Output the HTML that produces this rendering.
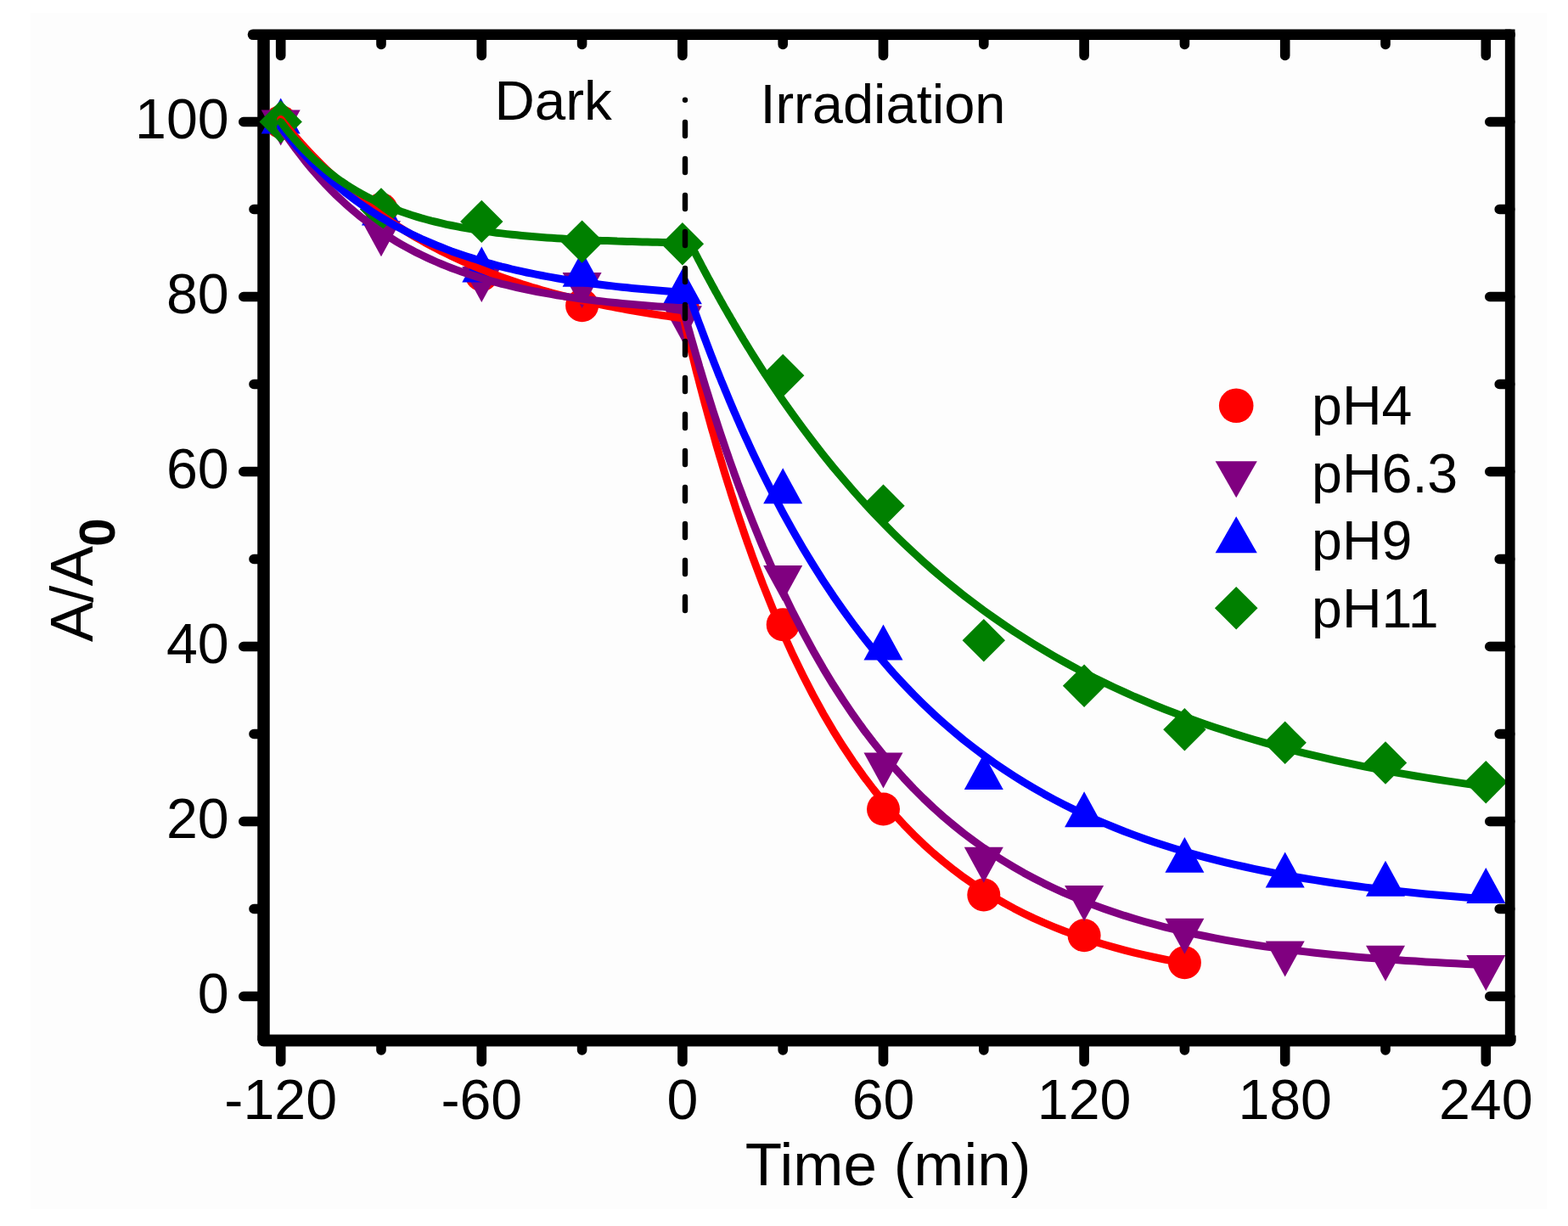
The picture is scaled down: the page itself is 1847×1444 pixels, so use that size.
<!DOCTYPE html>
<html><head><meta charset="utf-8"><title>A/A0 vs Time</title>
<style>html,body{margin:0;padding:0;background:#fff;}svg{display:block;}</style>
</head><body>
<svg width="1847" height="1444" viewBox="0 0 1847 1444">
<rect x="0" y="0" width="1847" height="1444" fill="#ffffff"/>
<rect x="36" y="15" width="1786" height="1409" fill="#fdfdfd"/>
<path d="M298 40.8 L1778.7 40.8" stroke="#000" stroke-width="12.6" stroke-linecap="round" fill="none"/>
<path d="M310.5 40.8 L310.5 1225.5" stroke="#000" stroke-width="14.5" fill="none"/>
<path d="M310.5 1219.5 L310.5 1225.5 L1778.7 1225.5 L1778.7 1219.5" stroke="#000" stroke-width="14" stroke-linejoin="round" fill="none"/>
<path d="M330.7 1225.5 L330.7 1250.5 M330.7 40.8 L330.7 65.5 M449.0 1225.5 L449.0 1237 M449.0 40.8 L449.0 52.5 M567.3 1225.5 L567.3 1250.5 M567.3 40.8 L567.3 65.5 M685.6 1225.5 L685.6 1237 M685.6 40.8 L685.6 52.5 M803.9 1225.5 L803.9 1250.5 M803.9 40.8 L803.9 65.5 M922.2 1225.5 L922.2 1237 M922.2 40.8 L922.2 52.5 M1040.5 1225.5 L1040.5 1250.5 M1040.5 40.8 L1040.5 65.5 M1158.8 1225.5 L1158.8 1237 M1158.8 40.8 L1158.8 52.5 M1277.1 1225.5 L1277.1 1250.5 M1277.1 40.8 L1277.1 65.5 M1395.4 1225.5 L1395.4 1237 M1395.4 40.8 L1395.4 52.5 M1513.7 1225.5 L1513.7 1250.5 M1513.7 40.8 L1513.7 65.5 M1632.0 1225.5 L1632.0 1237 M1632.0 40.8 L1632.0 52.5 M1750.3 1225.5 L1750.3 1250.5 M1750.3 40.8 L1750.3 65.5 M310.5 1173.5 L286.8 1173.5 M310.5 1070.5 L299 1070.5 M310.5 967.5 L286.8 967.5 M310.5 864.5 L299 864.5 M310.5 761.5 L286.8 761.5 M310.5 658.5 L299 658.5 M310.5 555.5 L286.8 555.5 M310.5 452.5 L299 452.5 M310.5 349.5 L286.8 349.5 M310.5 246.5 L299 246.5 M310.5 143.5 L286.8 143.5" stroke="#000" stroke-width="11.6" stroke-linecap="round" fill="none"/>
<g>
<circle cx="330.7" cy="143.5" r="19.5" fill="#ff0000"/>
<circle cx="449.0" cy="246.5" r="19.5" fill="#ff0000"/>
<circle cx="567.3" cy="323.7" r="19.5" fill="#ff0000"/>
<circle cx="685.6" cy="359.8" r="19.5" fill="#ff0000"/>
<circle cx="803.9" cy="359.8" r="19.5" fill="#ff0000"/>
<circle cx="922.2" cy="735.8" r="19.5" fill="#ff0000"/>
<circle cx="1040.5" cy="953.1" r="19.5" fill="#ff0000"/>
<circle cx="1158.8" cy="1054.0" r="19.5" fill="#ff0000"/>
<circle cx="1277.1" cy="1101.7" r="19.5" fill="#ff0000"/>
<circle cx="1395.4" cy="1133.7" r="19.5" fill="#ff0000"/>
<path d="M330.7 171.5L353.7 129.5L307.7 129.5Z" fill="#800080"/>
<path d="M449.0 302.3L472.0 260.3L426.0 260.3Z" fill="#800080"/>
<path d="M567.3 355.9L590.3 313.9L544.3 313.9Z" fill="#800080"/>
<path d="M685.6 363.1L708.6 321.1L662.6 321.1Z" fill="#800080"/>
<path d="M803.9 402.2L826.9 360.2L780.9 360.2Z" fill="#800080"/>
<path d="M922.2 708.1L945.2 666.1L899.2 666.1Z" fill="#800080"/>
<path d="M1040.5 928.5L1063.5 886.5L1017.5 886.5Z" fill="#800080"/>
<path d="M1158.8 1039.8L1181.8 997.8L1135.8 997.8Z" fill="#800080"/>
<path d="M1277.1 1085.1L1300.1 1043.1L1254.1 1043.1Z" fill="#800080"/>
<path d="M1395.4 1123.7L1418.4 1081.7L1372.4 1081.7Z" fill="#800080"/>
<path d="M1513.7 1150.5L1536.7 1108.5L1490.7 1108.5Z" fill="#800080"/>
<path d="M1632.0 1155.7L1655.0 1113.7L1609.0 1113.7Z" fill="#800080"/>
<path d="M1750.3 1167.0L1773.3 1125.0L1727.3 1125.0Z" fill="#800080"/>
<path d="M330.7 115.5L353.7 157.5L307.7 157.5Z" fill="#0000ff"/>
<path d="M449.0 223.6L472.0 265.6L426.0 265.6Z" fill="#0000ff"/>
<path d="M567.3 290.6L590.3 332.6L544.3 332.6Z" fill="#0000ff"/>
<path d="M685.6 295.7L708.6 337.7L662.6 337.7Z" fill="#0000ff"/>
<path d="M803.9 316.3L826.9 358.3L780.9 358.3Z" fill="#0000ff"/>
<path d="M922.2 551.2L945.2 593.2L899.2 593.2Z" fill="#0000ff"/>
<path d="M1040.5 735.6L1063.5 777.6L1017.5 777.6Z" fill="#0000ff"/>
<path d="M1158.8 888.0L1181.8 930.0L1135.8 930.0Z" fill="#0000ff"/>
<path d="M1277.1 932.3L1300.1 974.3L1254.1 974.3Z" fill="#0000ff"/>
<path d="M1395.4 985.9L1418.4 1027.8L1372.4 1027.8Z" fill="#0000ff"/>
<path d="M1513.7 1003.4L1536.7 1045.4L1490.7 1045.4Z" fill="#0000ff"/>
<path d="M1632.0 1013.7L1655.0 1055.7L1609.0 1055.7Z" fill="#0000ff"/>
<path d="M1750.3 1021.9L1773.3 1063.9L1727.3 1063.9Z" fill="#0000ff"/>
<path d="M330.7 118.3L355.9 143.5L330.7 168.7L305.5 143.5Z" fill="#008000"/>
<path d="M449.0 221.3L474.2 246.5L449.0 271.7L423.8 246.5Z" fill="#008000"/>
<path d="M567.3 235.7L592.5 260.9L567.3 286.1L542.1 260.9Z" fill="#008000"/>
<path d="M685.6 259.4L710.8 284.6L685.6 309.8L660.4 284.6Z" fill="#008000"/>
<path d="M803.9 262.0L829.1 287.2L803.9 312.4L778.7 287.2Z" fill="#008000"/>
<path d="M922.2 417.0L947.4 442.2L922.2 467.4L897.0 442.2Z" fill="#008000"/>
<path d="M1040.5 570.5L1065.7 595.7L1040.5 620.9L1015.3 595.7Z" fill="#008000"/>
<path d="M1158.8 729.1L1184.0 754.3L1158.8 779.5L1133.6 754.3Z" fill="#008000"/>
<path d="M1277.1 782.6L1302.3 807.8L1277.1 833.0L1251.9 807.8Z" fill="#008000"/>
<path d="M1395.4 834.1L1420.6 859.3L1395.4 884.5L1370.2 859.3Z" fill="#008000"/>
<path d="M1513.7 849.6L1538.9 874.8L1513.7 900.0L1488.5 874.8Z" fill="#008000"/>
<path d="M1632.0 873.3L1657.2 898.5L1632.0 923.7L1606.8 898.5Z" fill="#008000"/>
<path d="M1750.3 895.9L1775.5 921.1L1750.3 946.4L1725.1 921.1Z" fill="#008000"/>
</g>
<path d="M330.7 140.4 L336.6 147.7 L342.5 154.7 L348.4 161.6 L354.4 168.3 L360.3 174.8 L366.2 181.1 L372.1 187.2 L378.0 193.2 L383.9 199.0 L389.9 204.6 L395.8 210.1 L401.7 215.4 L407.6 220.6 L413.5 225.7 L419.4 230.6 L425.3 235.3 L431.3 240.0 L437.2 244.5 L443.1 248.9 L449.0 253.1 L454.9 257.3 L460.8 261.3 L466.7 265.2 L472.7 269.0 L478.6 272.7 L484.5 276.3 L490.4 279.8 L496.3 283.2 L502.2 286.5 L508.2 289.7 L514.1 292.8 L520.0 295.9 L525.9 298.8 L531.8 301.7 L537.7 304.5 L543.6 307.2 L549.6 309.8 L555.5 312.4 L561.4 314.9 L567.3 317.3 L573.2 319.7 L579.1 322.0 L585.0 324.2 L591.0 326.4 L596.9 328.5 L602.8 330.5 L608.7 332.5 L614.6 334.5 L620.5 336.3 L626.5 338.2 L632.4 339.9 L638.3 341.7 L644.2 343.4 L650.1 345.0 L656.0 346.6 L661.9 348.1 L667.9 349.6 L673.8 351.1 L679.7 352.5 L685.6 353.9 L691.5 355.2 L697.4 356.6 L703.3 357.8 L709.3 359.1 L715.2 360.3 L721.1 361.4 L727.0 362.6 L732.9 363.7 L738.8 364.7 L744.8 365.8 L750.7 366.8 L756.6 367.8 L762.5 368.7 L768.4 369.7 L774.3 370.6 L780.2 371.5 L786.2 372.3 L792.1 373.2 L798.0 374.0 L803.9 374.7 L805.1 374.7 L807.1 383.0 L809.0 391.1 L810.9 399.2 L812.9 407.2 L814.8 415.1 L816.8 422.9 L818.7 430.6 L820.6 438.3 L822.6 445.9 L824.5 453.4 L826.5 460.8 L828.4 468.1 L830.3 475.4 L832.3 482.6 L834.2 489.7 L836.2 496.7 L838.1 503.7 L840.1 510.6 L842.0 517.4 L843.9 524.2 L845.9 530.9 L847.8 537.5 L849.8 544.0 L851.7 550.5 L853.6 556.9 L855.6 563.3 L857.5 569.5 L859.5 575.7 L861.4 581.9 L863.4 588.0 L865.3 594.0 L867.2 600.0 L869.2 605.9 L871.1 611.7 L873.1 617.5 L875.0 623.2 L876.9 628.8 L878.9 634.4 L880.8 640.0 L882.8 645.4 L886.7 656.4 L898.5 687.9 L910.4 717.5 L922.2 745.2 L934.0 771.3 L945.9 795.7 L957.7 818.6 L969.5 840.2 L981.3 860.3 L993.2 879.3 L1005.0 897.1 L1016.8 913.7 L1028.7 929.4 L1040.5 944.1 L1052.3 957.9 L1064.2 970.8 L1076.0 982.9 L1087.8 994.3 L1099.6 1005.0 L1111.5 1015.0 L1123.3 1024.4 L1135.1 1033.3 L1147.0 1041.5 L1158.8 1049.3 L1170.6 1056.6 L1182.5 1063.5 L1194.3 1069.9 L1206.1 1075.9 L1217.9 1081.6 L1229.8 1086.9 L1241.6 1091.8 L1253.4 1096.5 L1265.3 1100.9 L1277.1 1105.0 L1288.9 1108.9 L1300.8 1112.5 L1312.6 1115.9 L1324.4 1119.1 L1336.2 1122.1 L1348.1 1124.9 L1359.9 1127.5 L1371.7 1130.0 L1383.6 1132.3 L1395.4 1134.5" fill="none" stroke="#ff0000" stroke-width="9" stroke-linejoin="round" stroke-linecap="round"/>
<path d="M330.7 149.9 L336.6 158.7 L342.5 167.2 L348.4 175.3 L354.4 183.1 L360.3 190.6 L366.2 197.8 L372.1 204.7 L378.0 211.3 L383.9 217.7 L389.9 223.8 L395.8 229.7 L401.7 235.3 L407.6 240.7 L413.5 245.9 L419.4 250.9 L425.3 255.7 L431.3 260.3 L437.2 264.7 L443.1 269.0 L449.0 273.0 L454.9 276.9 L460.8 280.7 L466.7 284.3 L472.7 287.8 L478.6 291.1 L484.5 294.3 L490.4 297.4 L496.3 300.3 L502.2 303.1 L508.2 305.9 L514.1 308.5 L520.0 311.0 L525.9 313.4 L531.8 315.7 L537.7 317.9 L543.6 320.0 L549.6 322.1 L555.5 324.0 L561.4 325.9 L567.3 327.7 L573.2 329.5 L579.1 331.1 L585.0 332.7 L591.0 334.3 L596.9 335.7 L602.8 337.2 L608.7 338.5 L614.6 339.8 L620.5 341.1 L626.5 342.3 L632.4 343.5 L638.3 344.6 L644.2 345.6 L650.1 346.7 L656.0 347.7 L661.9 348.6 L667.9 349.5 L673.8 350.4 L679.7 351.2 L685.6 352.0 L691.5 352.8 L697.4 353.5 L703.3 354.2 L709.3 354.9 L715.2 355.6 L721.1 356.2 L727.0 356.8 L732.9 357.4 L738.8 358.0 L744.8 358.5 L750.7 359.0 L756.6 359.5 L762.5 360.0 L768.4 360.4 L774.3 360.9 L780.2 361.3 L786.2 361.7 L792.1 362.1 L798.0 362.5 L803.9 362.8 L804.3 362.8 L806.3 370.0 L808.3 377.2 L810.2 384.3 L812.2 391.3 L814.1 398.2 L816.1 405.1 L818.1 412.0 L820.0 418.7 L822.0 425.4 L823.9 432.1 L825.9 438.6 L827.9 445.2 L829.8 451.6 L831.8 458.0 L833.8 464.3 L835.7 470.6 L837.7 476.8 L839.6 483.0 L841.6 489.1 L843.6 495.2 L845.5 501.2 L847.5 507.1 L849.4 513.0 L851.4 518.8 L853.4 524.6 L855.3 530.3 L857.3 536.0 L859.2 541.6 L861.2 547.2 L863.2 552.7 L865.1 558.2 L867.1 563.6 L869.0 569.0 L871.0 574.3 L873.0 579.5 L874.9 584.8 L876.9 589.9 L878.8 595.0 L880.8 600.1 L882.8 605.1 L886.7 615.1 L898.5 644.0 L910.4 671.2 L922.2 697.0 L934.0 721.4 L945.9 744.4 L957.7 766.2 L969.5 786.8 L981.3 806.3 L993.2 824.8 L1005.0 842.2 L1016.8 858.7 L1028.7 874.3 L1040.5 889.0 L1052.3 902.9 L1064.2 916.1 L1076.0 928.6 L1087.8 940.4 L1099.6 951.5 L1111.5 962.1 L1123.3 972.0 L1135.1 981.5 L1147.0 990.4 L1158.8 998.8 L1170.6 1006.8 L1182.5 1014.3 L1194.3 1021.4 L1206.1 1028.2 L1217.9 1034.5 L1229.8 1040.6 L1241.6 1046.3 L1253.4 1051.7 L1265.3 1056.7 L1277.1 1061.6 L1288.9 1066.1 L1300.8 1070.4 L1312.6 1074.5 L1324.4 1078.4 L1336.2 1082.0 L1348.1 1085.5 L1359.9 1088.7 L1371.7 1091.8 L1383.6 1094.7 L1395.4 1097.5 L1407.2 1100.1 L1419.1 1102.5 L1430.9 1104.9 L1442.7 1107.1 L1454.5 1109.1 L1466.4 1111.1 L1478.2 1113.0 L1490.0 1114.7 L1501.9 1116.4 L1513.7 1118.0 L1525.5 1119.5 L1537.4 1120.9 L1549.2 1122.2 L1561.0 1123.5 L1572.8 1124.7 L1584.7 1125.8 L1596.5 1126.9 L1608.3 1127.9 L1620.2 1128.8 L1632.0 1129.7 L1643.8 1130.6 L1655.7 1131.4 L1667.5 1132.1 L1679.3 1132.9 L1691.1 1133.5 L1703.0 1134.2 L1714.8 1134.8 L1726.6 1135.4 L1738.5 1135.9 L1750.3 1136.4" fill="none" stroke="#800080" stroke-width="9" stroke-linejoin="round" stroke-linecap="round"/>
<path d="M330.7 149.8 L336.6 157.2 L342.5 164.2 L348.4 171.1 L354.4 177.7 L360.3 184.0 L366.2 190.2 L372.1 196.1 L378.0 201.8 L383.9 207.3 L389.9 212.6 L395.8 217.7 L401.7 222.6 L407.6 227.4 L413.5 231.9 L419.4 236.4 L425.3 240.6 L431.3 244.7 L437.2 248.7 L443.1 252.5 L449.0 256.2 L454.9 259.7 L460.8 263.2 L466.7 266.5 L472.7 269.6 L478.6 272.7 L484.5 275.7 L490.4 278.5 L496.3 281.3 L502.2 283.9 L508.2 286.5 L514.1 289.0 L520.0 291.3 L525.9 293.6 L531.8 295.9 L537.7 298.0 L543.6 300.0 L549.6 302.0 L555.5 303.9 L561.4 305.8 L567.3 307.6 L573.2 309.3 L579.1 310.9 L585.0 312.5 L591.0 314.1 L596.9 315.5 L602.8 317.0 L608.7 318.4 L614.6 319.7 L620.5 321.0 L626.5 322.2 L632.4 323.4 L638.3 324.5 L644.2 325.6 L650.1 326.7 L656.0 327.7 L661.9 328.7 L667.9 329.7 L673.8 330.6 L679.7 331.5 L685.6 332.4 L691.5 333.2 L697.4 334.0 L703.3 334.8 L709.3 335.5 L715.2 336.2 L721.1 336.9 L727.0 337.6 L732.9 338.2 L738.8 338.8 L744.8 339.4 L750.7 340.0 L756.6 340.6 L762.5 341.1 L768.4 341.6 L774.3 342.1 L780.2 342.6 L786.2 343.1 L792.1 343.5 L798.0 343.9 L803.9 344.4 L810.5 344.4 L812.3 349.5 L814.1 354.6 L815.9 359.7 L817.7 364.8 L819.5 369.8 L821.3 374.8 L823.1 379.7 L825.0 384.6 L826.8 389.5 L828.6 394.4 L830.4 399.2 L832.2 403.9 L834.0 408.7 L835.8 413.4 L837.6 418.1 L839.4 422.7 L841.2 427.3 L843.0 431.9 L844.8 436.4 L846.6 441.0 L848.4 445.4 L850.2 449.9 L852.1 454.3 L853.9 458.7 L855.7 463.0 L857.5 467.4 L859.3 471.7 L861.1 475.9 L862.9 480.2 L864.7 484.4 L866.5 488.5 L868.3 492.7 L870.1 496.8 L871.9 500.9 L873.7 505.0 L875.5 509.0 L877.3 513.0 L879.2 517.0 L881.0 520.9 L882.8 524.8 L886.7 533.3 L898.5 557.9 L910.4 581.4 L922.2 603.8 L934.0 625.2 L945.9 645.7 L957.7 665.2 L969.5 683.8 L981.3 701.6 L993.2 718.6 L1005.0 734.8 L1016.8 750.3 L1028.7 765.1 L1040.5 779.2 L1052.3 792.7 L1064.2 805.6 L1076.0 817.9 L1087.8 829.6 L1099.6 840.8 L1111.5 851.5 L1123.3 861.7 L1135.1 871.5 L1147.0 880.8 L1158.8 889.7 L1170.6 898.2 L1182.5 906.3 L1194.3 914.0 L1206.1 921.4 L1217.9 928.4 L1229.8 935.2 L1241.6 941.6 L1253.4 947.7 L1265.3 953.6 L1277.1 959.2 L1288.9 964.6 L1300.8 969.7 L1312.6 974.5 L1324.4 979.2 L1336.2 983.6 L1348.1 987.9 L1359.9 991.9 L1371.7 995.8 L1383.6 999.5 L1395.4 1003.0 L1407.2 1006.4 L1419.1 1009.6 L1430.9 1012.6 L1442.7 1015.6 L1454.5 1018.4 L1466.4 1021.0 L1478.2 1023.6 L1490.0 1026.0 L1501.9 1028.3 L1513.7 1030.6 L1525.5 1032.7 L1537.4 1034.7 L1549.2 1036.6 L1561.0 1038.5 L1572.8 1040.2 L1584.7 1041.9 L1596.5 1043.5 L1608.3 1045.1 L1620.2 1046.5 L1632.0 1047.9 L1643.8 1049.3 L1655.7 1050.5 L1667.5 1051.7 L1679.3 1052.9 L1691.1 1054.0 L1703.0 1055.1 L1714.8 1056.1 L1726.6 1057.1 L1738.5 1058.0 L1750.3 1058.9" fill="none" stroke="#0000ff" stroke-width="9" stroke-linejoin="round" stroke-linecap="round"/>
<path d="M330.7 143.6 L336.6 151.3 L342.5 158.6 L348.4 165.5 L354.4 172.1 L360.3 178.3 L366.2 184.1 L372.1 189.7 L378.0 194.9 L383.9 199.9 L389.9 204.6 L395.8 209.1 L401.7 213.3 L407.6 217.3 L413.5 221.0 L419.4 224.6 L425.3 228.0 L431.3 231.2 L437.2 234.2 L443.1 237.1 L449.0 239.8 L454.9 242.4 L460.8 244.8 L466.7 247.1 L472.7 249.3 L478.6 251.3 L484.5 253.3 L490.4 255.1 L496.3 256.9 L502.2 258.5 L508.2 260.1 L514.1 261.5 L520.0 262.9 L525.9 264.3 L531.8 265.5 L537.7 266.7 L543.6 267.8 L549.6 268.9 L555.5 269.9 L561.4 270.9 L567.3 271.8 L573.2 272.6 L579.1 273.4 L585.0 274.2 L591.0 274.9 L596.9 275.6 L602.8 276.2 L608.7 276.8 L614.6 277.4 L620.5 278.0 L626.5 278.5 L632.4 279.0 L638.3 279.4 L644.2 279.9 L650.1 280.3 L656.0 280.7 L661.9 281.1 L667.9 281.4 L673.8 281.7 L679.7 282.1 L685.6 282.4 L691.5 282.6 L697.4 282.9 L703.3 283.2 L709.3 283.4 L715.2 283.6 L721.1 283.8 L727.0 284.1 L732.9 284.2 L738.8 284.4 L744.8 284.6 L750.7 284.8 L756.6 284.9 L762.5 285.1 L768.4 285.2 L774.3 285.3 L780.2 285.5 L786.2 285.6 L792.1 285.7 L798.0 285.8 L803.9 285.9 L812.6 285.9 L814.4 289.3 L816.1 292.8 L817.9 296.2 L819.6 299.6 L821.4 303.0 L823.1 306.4 L824.9 309.7 L826.6 313.1 L828.4 316.4 L830.1 319.7 L831.9 323.0 L833.7 326.3 L835.4 329.5 L837.2 332.7 L838.9 336.0 L840.7 339.2 L842.4 342.4 L844.2 345.5 L845.9 348.7 L847.7 351.8 L849.4 355.0 L851.2 358.1 L852.9 361.2 L854.7 364.2 L856.5 367.3 L858.2 370.4 L860.0 373.4 L861.7 376.4 L863.5 379.4 L865.2 382.4 L867.0 385.4 L868.7 388.3 L870.5 391.3 L872.2 394.2 L874.0 397.1 L875.7 400.0 L877.5 402.9 L879.3 405.8 L881.0 408.6 L882.8 411.5 L886.7 417.8 L898.5 436.4 L910.4 454.3 L922.2 471.7 L934.0 488.4 L945.9 504.6 L957.7 520.3 L969.5 535.4 L981.3 550.1 L993.2 564.2 L1005.0 577.9 L1016.8 591.1 L1028.7 603.9 L1040.5 616.2 L1052.3 628.1 L1064.2 639.7 L1076.0 650.8 L1087.8 661.6 L1099.6 672.0 L1111.5 682.1 L1123.3 691.8 L1135.1 701.2 L1147.0 710.3 L1158.8 719.1 L1170.6 727.5 L1182.5 735.7 L1194.3 743.7 L1206.1 751.3 L1217.9 758.7 L1229.8 765.9 L1241.6 772.8 L1253.4 779.5 L1265.3 786.0 L1277.1 792.2 L1288.9 798.3 L1300.8 804.1 L1312.6 809.7 L1324.4 815.2 L1336.2 820.5 L1348.1 825.5 L1359.9 830.5 L1371.7 835.2 L1383.6 839.8 L1395.4 844.3 L1407.2 848.6 L1419.1 852.7 L1430.9 856.7 L1442.7 860.6 L1454.5 864.4 L1466.4 868.0 L1478.2 871.5 L1490.0 874.9 L1501.9 878.1 L1513.7 881.3 L1525.5 884.4 L1537.4 887.3 L1549.2 890.2 L1561.0 892.9 L1572.8 895.6 L1584.7 898.2 L1596.5 900.7 L1608.3 903.1 L1620.2 905.4 L1632.0 907.6 L1643.8 909.8 L1655.7 911.9 L1667.5 914.0 L1679.3 915.9 L1691.1 917.8 L1703.0 919.6 L1714.8 921.4 L1726.6 923.1 L1738.5 924.8 L1750.3 926.4" fill="none" stroke="#008000" stroke-width="9" stroke-linejoin="round" stroke-linecap="round"/>
<circle cx="807" cy="117.7" r="3.2" fill="#000"/>
<path d="M807 144 L807 719" stroke="#000" stroke-width="6.4" stroke-dasharray="16 27" stroke-linecap="round" fill="none"/>
<path d="M1778.7 34.5 L1778.7 1225.5" stroke="#000" stroke-width="11.7" fill="none"/>
<path d="M1778.7 1173.5 L1754.8 1173.5 M1778.7 1070.5 L1766.2 1070.5 M1778.7 967.5 L1754.8 967.5 M1778.7 864.5 L1766.2 864.5 M1778.7 761.5 L1754.8 761.5 M1778.7 658.5 L1766.2 658.5 M1778.7 555.5 L1754.8 555.5 M1778.7 452.5 L1766.2 452.5 M1778.7 349.5 L1754.8 349.5 M1778.7 246.5 L1766.2 246.5 M1778.7 143.5 L1754.8 143.5" stroke="#000" stroke-width="11.6" stroke-linecap="round" fill="none"/>
<text x="330.7" y="1318" font-family="'Liberation Sans', Arial, sans-serif" font-size="66.3" text-anchor="middle" fill="#000">-120</text>
<text x="567.3" y="1318" font-family="'Liberation Sans', Arial, sans-serif" font-size="66.3" text-anchor="middle" fill="#000">-60</text>
<text x="803.9" y="1318" font-family="'Liberation Sans', Arial, sans-serif" font-size="66.3" text-anchor="middle" fill="#000">0</text>
<text x="1040.5" y="1318" font-family="'Liberation Sans', Arial, sans-serif" font-size="66.3" text-anchor="middle" fill="#000">60</text>
<text x="1277.1" y="1318" font-family="'Liberation Sans', Arial, sans-serif" font-size="66.3" text-anchor="middle" fill="#000">120</text>
<text x="1513.7" y="1318" font-family="'Liberation Sans', Arial, sans-serif" font-size="66.3" text-anchor="middle" fill="#000">180</text>
<text x="1750.3" y="1318" font-family="'Liberation Sans', Arial, sans-serif" font-size="66.3" text-anchor="middle" fill="#000">240</text>
<text x="269.7" y="1192.5" font-family="'Liberation Sans', Arial, sans-serif" font-size="66.3" text-anchor="end" fill="#000">0</text>
<text x="269.7" y="986.5" font-family="'Liberation Sans', Arial, sans-serif" font-size="66.3" text-anchor="end" fill="#000">20</text>
<text x="269.7" y="780.5" font-family="'Liberation Sans', Arial, sans-serif" font-size="66.3" text-anchor="end" fill="#000">40</text>
<text x="269.7" y="574.5" font-family="'Liberation Sans', Arial, sans-serif" font-size="66.3" text-anchor="end" fill="#000">60</text>
<text x="269.7" y="368.5" font-family="'Liberation Sans', Arial, sans-serif" font-size="66.3" text-anchor="end" fill="#000">80</text>
<text x="269.7" y="162.5" font-family="'Liberation Sans', Arial, sans-serif" font-size="66.3" text-anchor="end" fill="#000">100</text>
<text x="877.8" y="1396.2" font-family="'Liberation Sans', Arial, sans-serif" font-size="71" fill="#000">Time (min)</text>
<text transform="translate(109.3 756.2) rotate(-90)" font-family="'Liberation Sans', Arial, sans-serif" font-size="71" letter-spacing="-0.7" fill="#000">A/A<tspan font-size="60" font-weight="bold" dy="26">0</tspan></text>
<text x="582.5" y="141" font-family="'Liberation Sans', Arial, sans-serif" font-size="65.5" fill="#000">Dark</text>
<text x="895.4" y="144.5" font-family="'Liberation Sans', Arial, sans-serif" font-size="65" fill="#000">Irradiation</text>
<circle cx="1456.2" cy="477.8" r="20.3" fill="#ff0000"/>
<text x="1545.1" y="500.3" font-family="'Liberation Sans', Arial, sans-serif" font-size="64.5" fill="#000">pH4</text>
<path d="M1456.2 586.2L1480.8 543.2L1431.6 543.2Z" fill="#800080"/>
<text x="1545.1" y="580" font-family="'Liberation Sans', Arial, sans-serif" font-size="64.5" fill="#000">pH6.3</text>
<path d="M1456.2 608.2L1480.8 651.2L1431.6 651.2Z" fill="#0000ff"/>
<text x="1545.1" y="659.4" font-family="'Liberation Sans', Arial, sans-serif" font-size="64.5" fill="#000">pH9</text>
<path d="M1456.2 691.0L1481.5 716.3L1456.2 741.6L1430.9 716.3Z" fill="#008000"/>
<text x="1545.1" y="738.8" font-family="'Liberation Sans', Arial, sans-serif" font-size="64.5" fill="#000">pH11</text>
</svg>
</body></html>
